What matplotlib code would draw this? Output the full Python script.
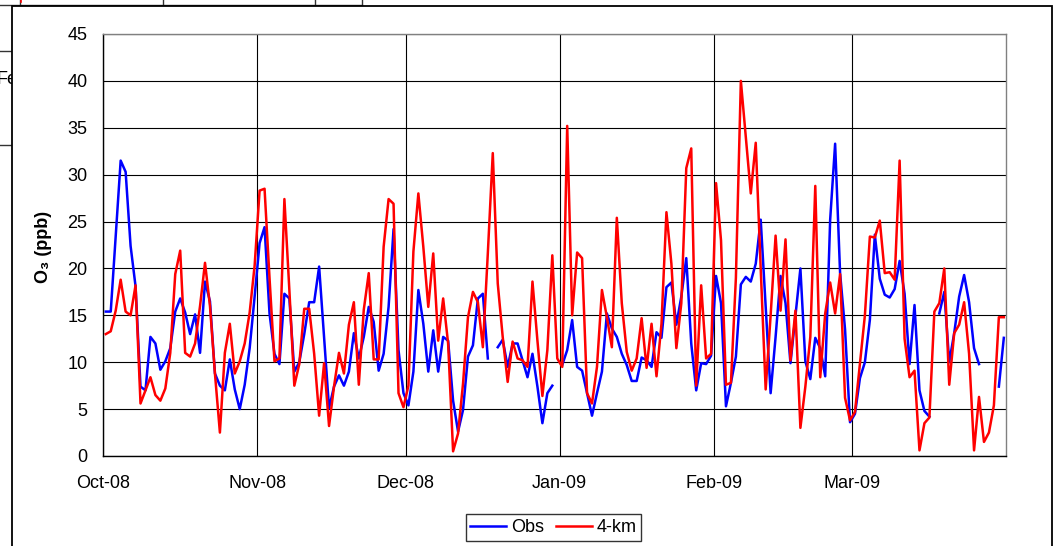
import numpy as np
import pandas as pd
import matplotlib
matplotlib.use("Agg")
import matplotlib.pyplot as plt
import matplotlib.dates as mdates
from matplotlib.patches import Rectangle

plt.rcParams['font.family'] = ['Liberation Sans', 'DejaVu Sans']

# daily O3 (ppb), 1 Oct 2008 - 31 Mar 2009; nan = missing observation
nan = np.nan
obs = [
    15.4, 15.4, 23.5, 31.5, 30.3, 22.4, 18.1, 7.4, 7.0, 12.7,
    12.0, 9.2, 10.1, 11.5, 15.4, 16.8, 15.3, 13.0, 15.1, 11.0,
    18.6, 16.5, 8.8, 7.5, 7.0, 10.3, 7.1, 5.0, 7.6, 11.5,
    17.0, 22.7, 24.4, 15.2, 10.9, 9.8, 17.3, 16.8, 9.0, 10.0,
    13.0, 16.4, 16.4, 20.2, 12.7, 5.1, 7.4, 8.6, 7.5, 9.0,
    13.1, 10.4, 12.7, 15.9, 14.3, 9.1, 10.9, 15.9, 24.2, 11.3,
    6.7, 5.4, 9.0, 17.7, 14.1, 9.0, 13.4, 9.0, 12.7, 12.3,
    5.9, 2.6, 4.9, 10.6, 11.8, 16.8, 17.3, 10.4, nan, 11.6,
    12.4, 9.5, 12.0, 12.0, 10.2, 8.4, 10.9, 7.4, 3.5, 6.7,
    7.5, nan, 9.7, 11.3, 14.5, 9.5, 9.1, 6.7, 4.3, 6.7,
    9.0, 15.2, 13.6, 12.7, 10.9, 9.7, 8.0, 8.0, 10.5, 10.2,
    9.5, 13.2, 12.6, 18.0, 18.5, 14.0, 17.0, 21.1, 12.0, 7.0,
    9.9, 9.8, 10.7, 19.2, 16.3, 5.3, 7.8, 10.6, 18.3, 19.1,
    18.6, 20.5, 25.2, 16.0, 6.7, 12.7, 19.2, 16.3, 9.9, 14.9,
    20.0, 10.1, 8.2, 12.6, 11.5, 8.5, 25.2, 33.3, 19.5, 13.5,
    3.6, 4.5, 8.3, 10.0, 14.5, 23.6, 18.9, 17.2, 16.9, 17.8,
    20.8, 17.3, 9.8, 16.1, 7.0, 4.8, 4.2, nan, 15.2, 17.5,
    10.0, 13.1, 17.0, 19.3, 16.4, 11.5, 9.8, nan, nan, nan,
    7.4, 12.6,
]
model_4km = [
    13.0, 13.3, 15.5, 18.8, 15.4, 15.0, 18.2, 5.6, 7.0, 8.4,
    6.5, 5.9, 7.2, 11.0, 19.4, 21.9, 11.0, 10.6, 12.0, 16.0,
    20.6, 16.0, 8.8, 2.5, 11.0, 14.1, 8.8, 10.1, 12.0, 15.3,
    20.3, 28.3, 28.5, 19.0, 10.1, 10.4, 27.4, 17.7, 7.5, 9.8,
    15.7, 15.7, 10.9, 4.3, 9.9, 3.2, 7.4, 11.0, 8.8, 14.0,
    16.4, 7.6, 15.6, 19.5, 10.3, 10.3, 22.3, 27.4, 26.9, 6.7,
    5.2, 7.5, 21.8, 28.0, 22.3, 15.9, 21.6, 12.3, 16.8, 12.0,
    0.5, 2.4, 7.7, 14.8, 17.5, 16.4, 11.6, 21.6, 32.3, 18.4,
    12.7, 7.9, 12.2, 10.4, 10.2, 9.5, 18.6, 12.3, 6.4, 11.3,
    21.4, 10.4, 9.5, 35.2, 15.0, 21.7, 21.1, 6.7, 5.6, 9.5,
    17.7, 14.8, 11.6, 25.4, 16.3, 11.1, 9.1, 10.4, 14.7, 9.4,
    14.1, 8.5, 14.1, 26.0, 20.5, 11.5, 16.3, 30.7, 32.8, 7.5,
    18.2, 10.4, 10.9, 29.1, 23.0, 7.6, 7.8, 19.0, 40.0, 34.0,
    28.0, 33.4, 20.0, 7.1, 15.0, 23.5, 15.5, 23.1, 10.2, 15.5,
    3.0, 7.4, 12.7, 28.8, 8.4, 15.2, 18.5, 15.2, 19.4, 6.2,
    3.8, 4.7, 9.9, 15.0, 23.4, 23.3, 25.1, 19.5, 19.6, 18.8,
    31.5, 12.5, 8.4, 9.1, 0.6, 3.5, 4.1, 15.4, 16.3, 20.0,
    7.6, 13.1, 14.0, 16.4, 10.9, 0.6, 6.3, 1.5, 2.5, 5.4,
    14.8, 14.8,
]
dates = pd.date_range('2008-10-01 12:00', periods=len(obs), freq='D')
month_ticks = pd.date_range('2008-10-01', '2009-03-01', freq='MS')
y_ticks = list(range(0, 50, 5))

W, H = 1056, 546
fig = plt.figure(figsize=(W / 100, H / 100), dpi=100)

# page background: bits of the surrounding document table
bg = fig.add_axes([0, 0, 1, 1])
bg.set_xlim(0, W)
bg.set_ylim(H, 0)
bg.axis('off')
kw = dict(color='#333333', lw=1.0, zorder=1)
bg.plot([0, 362], [4.7, 4.7], **kw)
for xv in (20, 163, 315, 362):
    bg.plot([xv, xv], [0, 6], **kw)
bg.plot([0, 12], [51, 51], **kw)
bg.plot([0, 12], [145, 145], **kw)
bg.plot([20.7, 20.7], [0, 1.8], color='red', lw=1.2, zorder=1)
bg.text(-3, 79, 'Fe', fontsize=13, va='center', ha='left', zorder=1)
# chart area
bg.add_patch(Rectangle((12, 6), 1040, 600, facecolor='white',
                       edgecolor='black', lw=1.3, zorder=2))

left, right = 103.3, 1006.3
top, bottom = 34, 456
ax = fig.add_axes([left / W, 1 - bottom / H, (right - left) / W, (bottom - top) / H])
ax.set_zorder(3)

ax.plot(dates, obs, color='#0000FF', lw=1.8, label='Obs', zorder=3)
ax.plot(dates, model_4km, color='#FF0000', lw=1.8, label='4-km', zorder=3)

ax.set_xlim(pd.Timestamp('2008-10-01'), pd.Timestamp('2009-04-01'))
ax.set_ylim(0, 45)
ax.set_yticks(y_ticks)
ax.set_xticks(month_ticks)
ax.xaxis.set_major_formatter(mdates.DateFormatter('%b-%y'))
ax.grid(True, color='black', lw=0.8, zorder=1)
ax.set_axisbelow(True)
ax.tick_params(axis='both', length=0, labelsize=13, colors='black')
ax.tick_params(axis='y', pad=11.5)
ax.tick_params(axis='x', pad=14)
for s in ('top', 'right'):
    ax.spines[s].set_color('#808080')
    ax.spines[s].set_linewidth(1.0)
for s in ('left', 'bottom'):
    ax.spines[s].set_color('black')
    ax.spines[s].set_linewidth(1.0)

fig.text(44 / W, 1 - 247 / H, 'O₃ (ppb)', rotation=90, fontsize=13,
         fontweight='bold', ha='center', va='center', zorder=4)

fig.legend(loc='center', bbox_to_anchor=(553.5 / W, 1 - 527.5 / H), ncol=2,
           fontsize=13, frameon=True, fancybox=False, edgecolor='black',
           handlelength=2.0, handletextpad=0.25, columnspacing=0.7,
           borderpad=0.25, borderaxespad=0)

fig.savefig('out.png', dpi=100)
